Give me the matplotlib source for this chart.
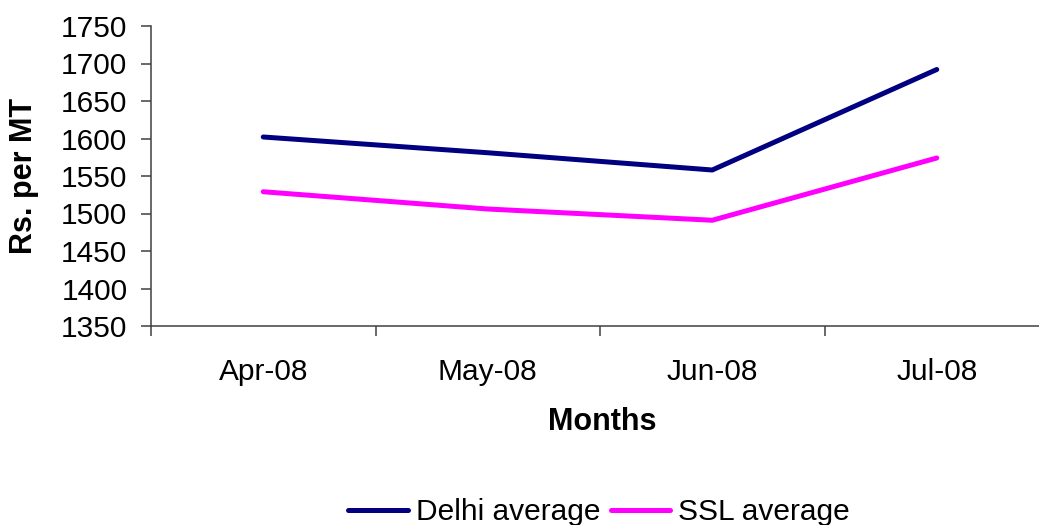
import matplotlib.pyplot as plt
from matplotlib.ticker import FixedLocator

plt.rcParams['font.family'] = ['Liberation Sans', 'DejaVu Sans']

# monthly average prices (Rs. per MT)
months = ['Apr-08', 'May-08', 'Jun-08', 'Jul-08']
delhi_avg = [1602, 1581, 1558, 1692]
ssl_avg = [1529, 1506, 1491, 1574]

fig = plt.figure(figsize=(10.39, 5.25), dpi=100)
ax = fig.add_axes([151 / 1039, 199 / 525, 898 / 1039, 300 / 525])

x = range(len(months))
ax.plot(x, delhi_avg, color='#000080', lw=3.6, solid_capstyle='round',
        label='Delhi average')
ax.plot(x, ssl_avg, color='#FF00FF', lw=3.6, solid_capstyle='round',
        label='SSL average')

ax.set_xlim(-0.5, len(months) - 0.5)
ax.set_ylim(1350, 1750)
ax.set_yticks(range(1350, 1751, 50))
ax.set_xticks(list(x))
ax.set_xticklabels(months)
# tick marks sit between the categories, like an Excel category axis
ax.xaxis.set_minor_locator(FixedLocator([i - 0.5 for i in range(len(months) + 1)]))

for s in ['top', 'right']:
    ax.spines[s].set_visible(False)
for s in ['left', 'bottom']:
    ax.spines[s].set_color('#404040')
    ax.spines[s].set_linewidth(1.1)

ax.tick_params(axis='y', which='major', length=7, width=1.1, color='#404040',
               pad=10, labelsize=21.5)
ax.tick_params(axis='x', which='major', length=0, pad=23, labelsize=21.5)
ax.tick_params(axis='x', which='minor', length=7, width=1.1, color='#404040')

ax.set_xlabel('Months', fontsize=22, fontweight='bold')
ax.set_ylabel('Rs. per MT', fontsize=22, fontweight='bold')
ax.xaxis.set_label_coords(0.502, -0.27)
ax.yaxis.set_label_coords(-0.125, 0.5)

fig.legend(loc='center', bbox_to_anchor=(599 / 1039, 13 / 525), ncol=2,
           frameon=False, fontsize=21.5, handlelength=2.0, handletextpad=0.25,
           columnspacing=0.35, borderaxespad=0)

fig.savefig('out.png', dpi=100, facecolor='white')
